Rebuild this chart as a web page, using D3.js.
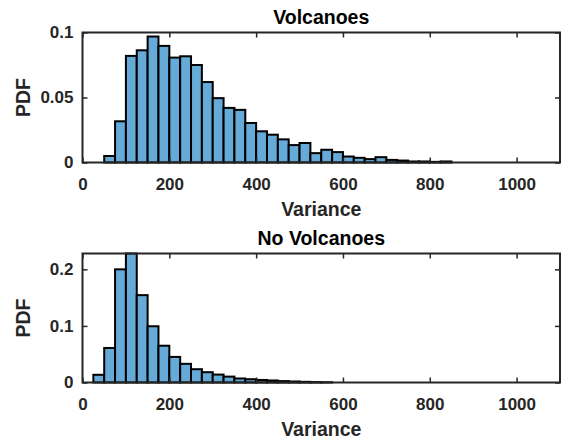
<!DOCTYPE html>
<html>
<head>
<meta charset="utf-8">
<script src="https://cdn.jsdelivr.net/npm/d3@7"></script>
<style>
  html, body { margin: 0; padding: 0; background: #ffffff; }
  svg { display: block; }
</style>
</head>
<body>
<svg id="chart" width="563" height="443"></svg>
<script>
// ---- data ----
const panelTitles = ["Volcanoes", "No Volcanoes"];
const xLabel = "Variance";
const yLabel = "PDF";
const xTicks = [0, 200, 400, 600, 800, 1000];
const xDomain = [0, 1100];
const binWidth = 25;

// lower bin edges and PDF values, "Volcanoes"
const volcEdges = [50, 75, 100, 125, 150, 175, 200, 225, 250, 275, 300, 325, 350, 375, 400, 425,
                   450, 475, 500, 525, 550, 575, 600, 625, 650, 675, 700, 725, 750, 775, 800, 825];
const volcValues = [0.005, 0.0317, 0.082, 0.0863, 0.0969, 0.0897, 0.0807, 0.0817, 0.075, 0.0619,
                    0.0495, 0.042, 0.0405, 0.0304, 0.024, 0.0214, 0.0178, 0.0134, 0.015, 0.0072,
                    0.0098, 0.008, 0.0046, 0.0036, 0.0026, 0.0041, 0.002, 0.0015, 0.0008, 0.0008,
                    0.0005, 0.0008];
const volcYTicks = [0, 0.05, 0.1];
const volcYDomain = [0, 0.1];

// lower bin edges and PDF values, "No Volcanoes"
const noVolcEdges = [25, 50, 75, 100, 125, 150, 175, 200, 225, 250, 275, 300, 325, 350, 375, 400,
                     425, 450, 475, 500, 525, 550];
const noVolcValues = [0.0136, 0.061, 0.2, 0.228, 0.1544, 0.0994, 0.065, 0.0452, 0.033, 0.0235,
                      0.0182, 0.0140, 0.0104, 0.0071, 0.0058, 0.0045, 0.0036, 0.0025, 0.0018, 0.0012,
                      0.0007, 0.0004];
const noVolcYTicks = [0, 0.1, 0.2];
const noVolcYDomain = [0, 0.228];

// ---- drawing ----
const svg = d3.select("#chart");
const axisColor = "#262626";
const barFill = "#66aad7";
const font = "'Liberation Sans', Arial, Helvetica, sans-serif";

const panels = [
  { title: panelTitles[0], edges: volcEdges, values: volcValues, yTicks: volcYTicks, yDomain: volcYDomain,
    top: 32.5, bottom: 162.5 },
  { title: panelTitles[1], edges: noVolcEdges, values: noVolcValues, yTicks: noVolcYTicks, yDomain: noVolcYDomain,
    top: 253.5, bottom: 382.5 }
];

const left = 82.5, right = 560;
const tickLen = 5;

panels.forEach(p => {
  const x = d3.scaleLinear().domain(xDomain).range([left, right]);
  const y = d3.scaleLinear().domain(p.yDomain).range([p.bottom, p.top]);
  const g = svg.append("g");

  const bins = p.edges.map((e, i) => ({ x0: e, x1: e + binWidth, v: p.values[i] }));

  g.append("g").selectAll("rect").data(bins).join("rect")
    .attr("x", d => x(d.x0))
    .attr("width", d => x(d.x1) - x(d.x0))
    .attr("y", d => y(d.v))
    .attr("height", d => y(0) - y(d.v))
    .attr("fill", barFill)
    .attr("stroke", "#000")
    .attr("stroke-width", 2);

  const fmt = d => d3.format("~g")(d);

  const ax = g.append("g").attr("transform", `translate(0,${p.bottom})`)
    .call(d3.axisBottom(x).tickValues(xTicks).tickFormat(fmt).tickSizeInner(-tickLen).tickSizeOuter(0).tickPadding(15));
  const axT = g.append("g").attr("transform", `translate(0,${p.top})`)
    .call(d3.axisTop(x).tickValues(xTicks).tickFormat("").tickSizeInner(-tickLen).tickSizeOuter(0));
  const ay = g.append("g").attr("transform", `translate(${left},0)`)
    .call(d3.axisLeft(y).tickValues(p.yTicks).tickFormat(fmt).tickSizeInner(-tickLen).tickSizeOuter(0).tickPadding(9));
  const ayR = g.append("g").attr("transform", `translate(${right},0)`)
    .call(d3.axisRight(y).tickValues(p.yTicks).tickFormat("").tickSizeInner(-tickLen).tickSizeOuter(0));

  [ax, axT, ay, ayR].forEach(a => {
    a.select(".domain").remove();
    a.selectAll(".tick line").attr("stroke", axisColor).attr("stroke-width", 1.5);
    a.selectAll(".tick text").attr("fill", axisColor)
      .style("font-family", font).style("font-size", "17px").style("font-weight", "bold");
  });

  g.append("rect")
    .attr("x", left).attr("y", p.top)
    .attr("width", right - left).attr("height", p.bottom - p.top)
    .attr("fill", "none").attr("stroke", axisColor).attr("stroke-width", 2);

  g.append("text")
    .attr("x", (left + right) / 2).attr("y", p.top - 8.5)
    .attr("text-anchor", "middle")
    .attr("fill", "#000")
    .style("font-family", font).style("font-size", "19.5px").style("font-weight", "bold")
    .text(p.title);

  g.append("text")
    .attr("x", (left + right) / 2).attr("y", p.bottom + 53)
    .attr("text-anchor", "middle")
    .attr("fill", axisColor)
    .style("font-family", font).style("font-size", "19.5px").style("font-weight", "bold")
    .text(xLabel);

  g.append("text")
    .attr("transform", `translate(30,${(p.top + p.bottom) / 2}) rotate(-90)`)
    .attr("text-anchor", "middle")
    .attr("fill", axisColor)
    .style("font-family", font).style("font-size", "19.5px").style("font-weight", "bold")
    .text(yLabel);
});
</script>
</body>
</html>
